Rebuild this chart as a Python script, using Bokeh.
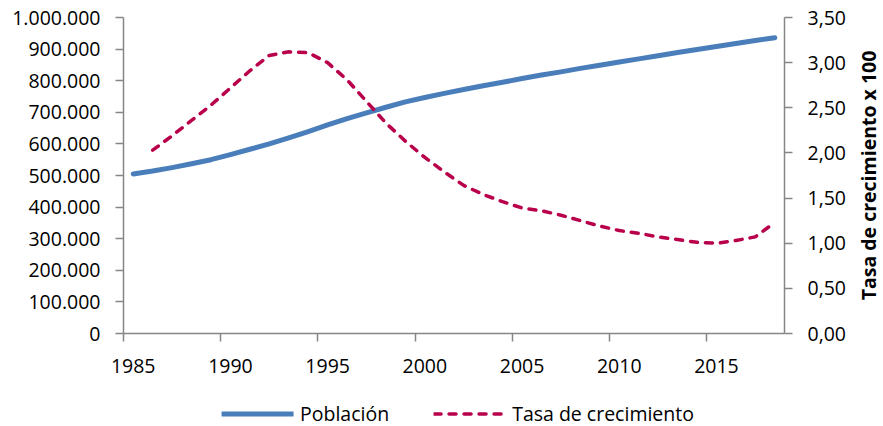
import math
from bokeh.plotting import figure
from bokeh.layouts import column, row
from bokeh.models import (Range1d, LinearAxis, FixedTicker, Legend, LegendItem,
                          ColumnDataSource)
from bokeh.core.properties import value
from bokeh.embed import file_html
from bokeh.resources import INLINE

# ---------------- data ----------------
years = list(range(1985, 2019))
poblacion = [505000, 514000, 525000, 537000, 550000,
             566000, 583000, 600000, 619000, 639000,
             660000, 680000, 698000, 716000, 733000,
             747000, 760000, 772000, 784000, 795000,
             807000, 818000, 828000, 839000, 849000,
             859000, 869000, 879000, 889000, 899000,
             908000, 918000, 927000, 936000]

tasa_years = list(range(1986, 2019))
tasa = [2.03, 2.19, 2.36, 2.53,
        2.72, 2.91, 3.08, 3.12, 3.11,
        3.00, 2.81, 2.57, 2.33, 2.13,
        1.95, 1.79, 1.64, 1.54, 1.46,
        1.39, 1.36, 1.31, 1.25, 1.19,
        1.14, 1.11, 1.07, 1.04, 1.01,
        1.00, 1.03, 1.07, 1.23]

x_tick_years = [1985, 1990, 1995, 2000, 2005, 2010, 2015]
x_tick_labels = ["1985", "1990", "1995", "2000", "2005", "2010", "2015"]

left_ticks = [0, 100000, 200000, 300000, 400000, 500000, 600000, 700000, 800000, 900000, 1000000]
left_tick_labels = ["0", "100.000", "200.000", "300.000", "400.000", "500.000",
                    "600.000", "700.000", "800.000", "900.000", "1.000.000"]

right_ticks = [0.0, 0.5, 1.0, 1.5, 2.0, 2.5, 3.0, 3.5]
right_tick_labels = ["0,00", "0,50", "1,00", "1,50", "2,00", "2,50", "3,00", "3,50"]

series_names = ["Población", "Tasa de crecimiento"]
right_title = "Tasa de crecimiento x 100"

# ---------------- style ----------------
FONT = "Open Sans"
FS = "19.5px"
AXIS_COLOR = "#868686"
TEXT_COLOR = "#000000"
BLUE = "#4A7EBB"
RED = "#B8004B"

TOTAL_W, TOTAL_H = 883, 426
TITLE_W = 30
LEG_H = 32
MAIN_W = TOTAL_W - TITLE_W
MAIN_H = TOTAL_H - LEG_H
FRAME_L, FRAME_R, FRAME_T, FRAME_B = 123, 784, 17, 333

p = figure(width=MAIN_W, height=MAIN_H, output_backend="svg", toolbar_location=None,
           x_range=Range1d(years[0] - 0.5, years[-1] + 0.5),
           y_range=Range1d(left_ticks[0], left_ticks[-1]),
           x_axis_type=None, y_axis_type=None,
           min_border_left=FRAME_L, min_border_right=MAIN_W - FRAME_R,
           min_border_top=FRAME_T, min_border_bottom=MAIN_H - FRAME_B)
p.outline_line_color = None
p.background_fill_color = "white"
p.border_fill_color = "white"
p.xgrid.visible = False
p.ygrid.visible = False
p.extra_y_ranges = {"tasa": Range1d(right_ticks[0], right_ticks[-1])}

def style_axis(ax):
    ax.axis_line_color = AXIS_COLOR
    ax.axis_line_width = 1.5
    ax.major_tick_line_color = AXIS_COLOR
    ax.major_tick_line_width = 1.5
    ax.minor_tick_line_color = AXIS_COLOR
    ax.minor_tick_line_width = 1.5
    ax.major_label_text_font = FONT
    ax.major_label_text_font_size = FS
    ax.major_label_text_color = TEXT_COLOR

# x axis: labels at category centres, tick marks at category boundaries
xax = LinearAxis(ticker=FixedTicker(ticks=x_tick_years,
                                    minor_ticks=[y - 0.5 for y in x_tick_years]))
style_axis(xax)
xax.major_tick_out = 0
xax.major_tick_in = 0
xax.minor_tick_out = 8
xax.minor_tick_in = 0
xax.major_label_standoff = 17
xax.major_label_overrides = {y: l for y, l in zip(x_tick_years, x_tick_labels)}
p.add_layout(xax, "below")

yax = LinearAxis(ticker=FixedTicker(ticks=left_ticks, minor_ticks=[]))
style_axis(yax)
yax.major_tick_out = 8
yax.major_tick_in = 0
yax.minor_tick_out = 0
yax.major_label_standoff = 15
yax.major_label_overrides = {t: l for t, l in zip(left_ticks, left_tick_labels)}
p.add_layout(yax, "left")

rax = LinearAxis(y_range_name="tasa",
                 ticker=FixedTicker(ticks=right_ticks, minor_ticks=[]))
style_axis(rax)
rax.major_tick_out = 8
rax.major_tick_in = 0
rax.minor_tick_out = 0
rax.major_label_standoff = 15
rax.major_label_overrides = {t: l for t, l in zip(right_ticks, right_tick_labels)}
p.add_layout(rax, "right")

src_p = ColumnDataSource(dict(x=years, y=poblacion))
src_t = ColumnDataSource(dict(x=tasa_years, y=tasa))

line_p = dict(line_color=BLUE, line_width=5, line_cap="round", line_join="round")
line_t = dict(line_color=RED, line_width=3.5, line_dash="7 8",
              line_cap="round", line_join="round")

p.line("x", "y", source=src_p, **line_p)
p.line("x", "y", source=src_t, y_range_name="tasa", **line_t)

# ---------------- right axis title (rotated, reading upwards) ----------------
pt = figure(width=TITLE_W, height=MAIN_H, output_backend="svg", toolbar_location=None,
            x_range=Range1d(-1, 1), y_range=Range1d(-1, 1),
            x_axis_type=None, y_axis_type=None,
            min_border_left=0, min_border_right=0,
            min_border_top=FRAME_T, min_border_bottom=MAIN_H - FRAME_B)
pt.outline_line_color = None
pt.xgrid.visible = False
pt.ygrid.visible = False
pt.text(x=[0], y=[0], text=[right_title], angle=math.pi / 2,
        text_align="center", text_baseline="middle",
        text_font=value(FONT), text_font_size=FS, text_font_style="bold",
        text_color=TEXT_COLOR)

# ---------------- legend strip ----------------
# the series are drawn again here only to give the legend its swatches;
# the x range lies outside the data, so nothing is visible in this strip's frame
pl = figure(width=TOTAL_W, height=LEG_H, output_backend="svg", toolbar_location=None,
            x_range=Range1d(0, 1), y_range=Range1d(0, 1),
            x_axis_type=None, y_axis_type=None,
            min_border_left=32, min_border_right=0,
            min_border_top=6, min_border_bottom=0)
pl.outline_line_color = None
pl.xgrid.visible = False
pl.ygrid.visible = False
lr1 = pl.line("x", "y", source=src_p, **line_p)
lr2 = pl.line("x", "y", source=src_t, **line_t)
legend = Legend(items=[LegendItem(label=series_names[0], renderers=[lr1]),
                       LegendItem(label=series_names[1], renderers=[lr2])],
                orientation="horizontal", location="center",
                glyph_width=72, glyph_height=20, label_standoff=7, spacing=44,
                padding=0, margin=0,
                border_line_color=None, background_fill_alpha=0,
                label_text_font=FONT, label_text_font_size=FS,
                label_text_color=TEXT_COLOR)
pl.add_layout(legend)

layout = column(row(p, pt), pl)
open("out.html", "w").write(file_html(layout, INLINE))
